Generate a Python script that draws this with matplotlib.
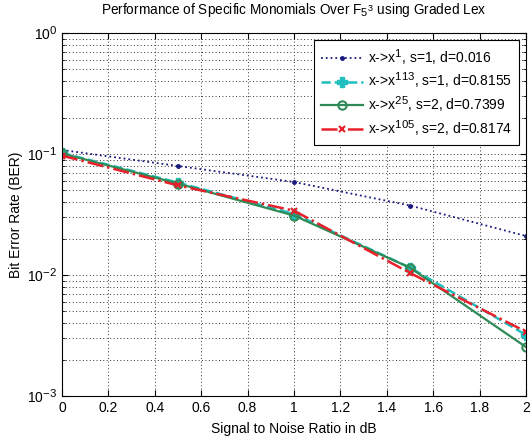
import matplotlib
matplotlib.use("Agg")
import matplotlib.pyplot as plt
from matplotlib.ticker import LogLocator, NullFormatter
import matplotlib._mathtext as _mt

_mt.SHRINK_FACTOR = 0.82

plt.rcParams['font.family'] = ['Liberation Sans', 'DejaVu Sans']
plt.rcParams['mathtext.fontset'] = 'custom'
plt.rcParams['mathtext.rm'] = 'Liberation Sans'
plt.rcParams['mathtext.it'] = 'Liberation Sans'
plt.rcParams['mathtext.bf'] = 'Liberation Sans'

snr = [0, 0.5, 1, 1.5, 2]
ber_x1 = [0.108, 0.0796, 0.0587, 0.0375, 0.021]
ber_x113 = [0.102, 0.058, 0.032, 0.0115, 0.0032]
ber_x25 = [0.101, 0.057, 0.031, 0.0115, 0.00254]
ber_x105 = [0.097, 0.055, 0.034, 0.0104, 0.0034]
labels = [r"x->x$^{1}$, s=1, d=0.016",
          r"x->x$^{113}$, s=1, d=0.8155",
          r"x->x$^{25}$, s=2, d=0.7399",
          r"x->x$^{105}$, s=2, d=0.8174"]
title = r"Performance of Specific Monomials Over F$_{5^3}$ using Graded Lex"
xlabel = "Signal to Noise Ratio in dB"
ylabel = "Bit Error Rate (BER)"

fig = plt.figure(figsize=(5.32, 4.40), dpi=100)
ax = fig.add_axes([0.1165, 0.10, 0.8722, 0.825])

ax.semilogy(snr, ber_x1, linestyle=':', color='#1a1a80', marker='.', markersize=5, linewidth=1.3, label=labels[0])
ax.semilogy(snr, ber_x113, linestyle='--', color='#20bfbf', marker='P', markersize=6.5, linewidth=1.8, label=labels[1])
ax.semilogy(snr, ber_x25, linestyle='-', color='#2e8b57', marker='o', markersize=6, markerfacecolor='none', markeredgewidth=1.5, linewidth=1.6, label=labels[2])
ax.semilogy(snr, ber_x105, linestyle='-.', color='#e8202a', marker='x', markersize=5, markeredgewidth=1.5, linewidth=1.8, label=labels[3])

ax.set_xlim(0, 2)
ax.set_ylim(1e-3, 1)
ax.set_xticks([0, 0.2, 0.4, 0.6, 0.8, 1, 1.2, 1.4, 1.6, 1.8, 2])
ax.set_xticklabels(['0', '0.2', '0.4', '0.6', '0.8', '1', '1.2', '1.4', '1.6', '1.8', '2'])
ax.yaxis.set_major_locator(LogLocator(base=10, numticks=10))
ax.yaxis.set_minor_locator(LogLocator(base=10, subs=range(2, 10), numticks=20))
ax.yaxis.set_minor_formatter(NullFormatter())

ax.tick_params(which='both', direction='in', top=True, right=True, labelsize=10)
ax.tick_params(which='major', length=4)
ax.tick_params(which='minor', length=2)
ax.grid(True, which='major', linestyle=(0, (1, 2.5)), color='#333333', linewidth=0.7)
ax.grid(True, which='minor', axis='y', linestyle=(0, (1, 2.5)), color='#333333', linewidth=0.7)
for s in ax.spines.values():
    s.set_linewidth(0.8)

ax.set_title(title, fontsize=9.8, pad=13.5)
ax.set_xlabel(xlabel, fontsize=10, labelpad=5)
ax.set_ylabel(ylabel, fontsize=10, labelpad=3)

leg = ax.legend(loc='upper right', fontsize=10, fancybox=False, framealpha=1, edgecolor='black',
                borderaxespad=0.5, handlelength=3.0, handletextpad=0.35,
                labelspacing=0.28, borderpad=0.5)
leg.get_frame().set_linewidth(0.8)

fig.savefig('out.png', dpi=100)
